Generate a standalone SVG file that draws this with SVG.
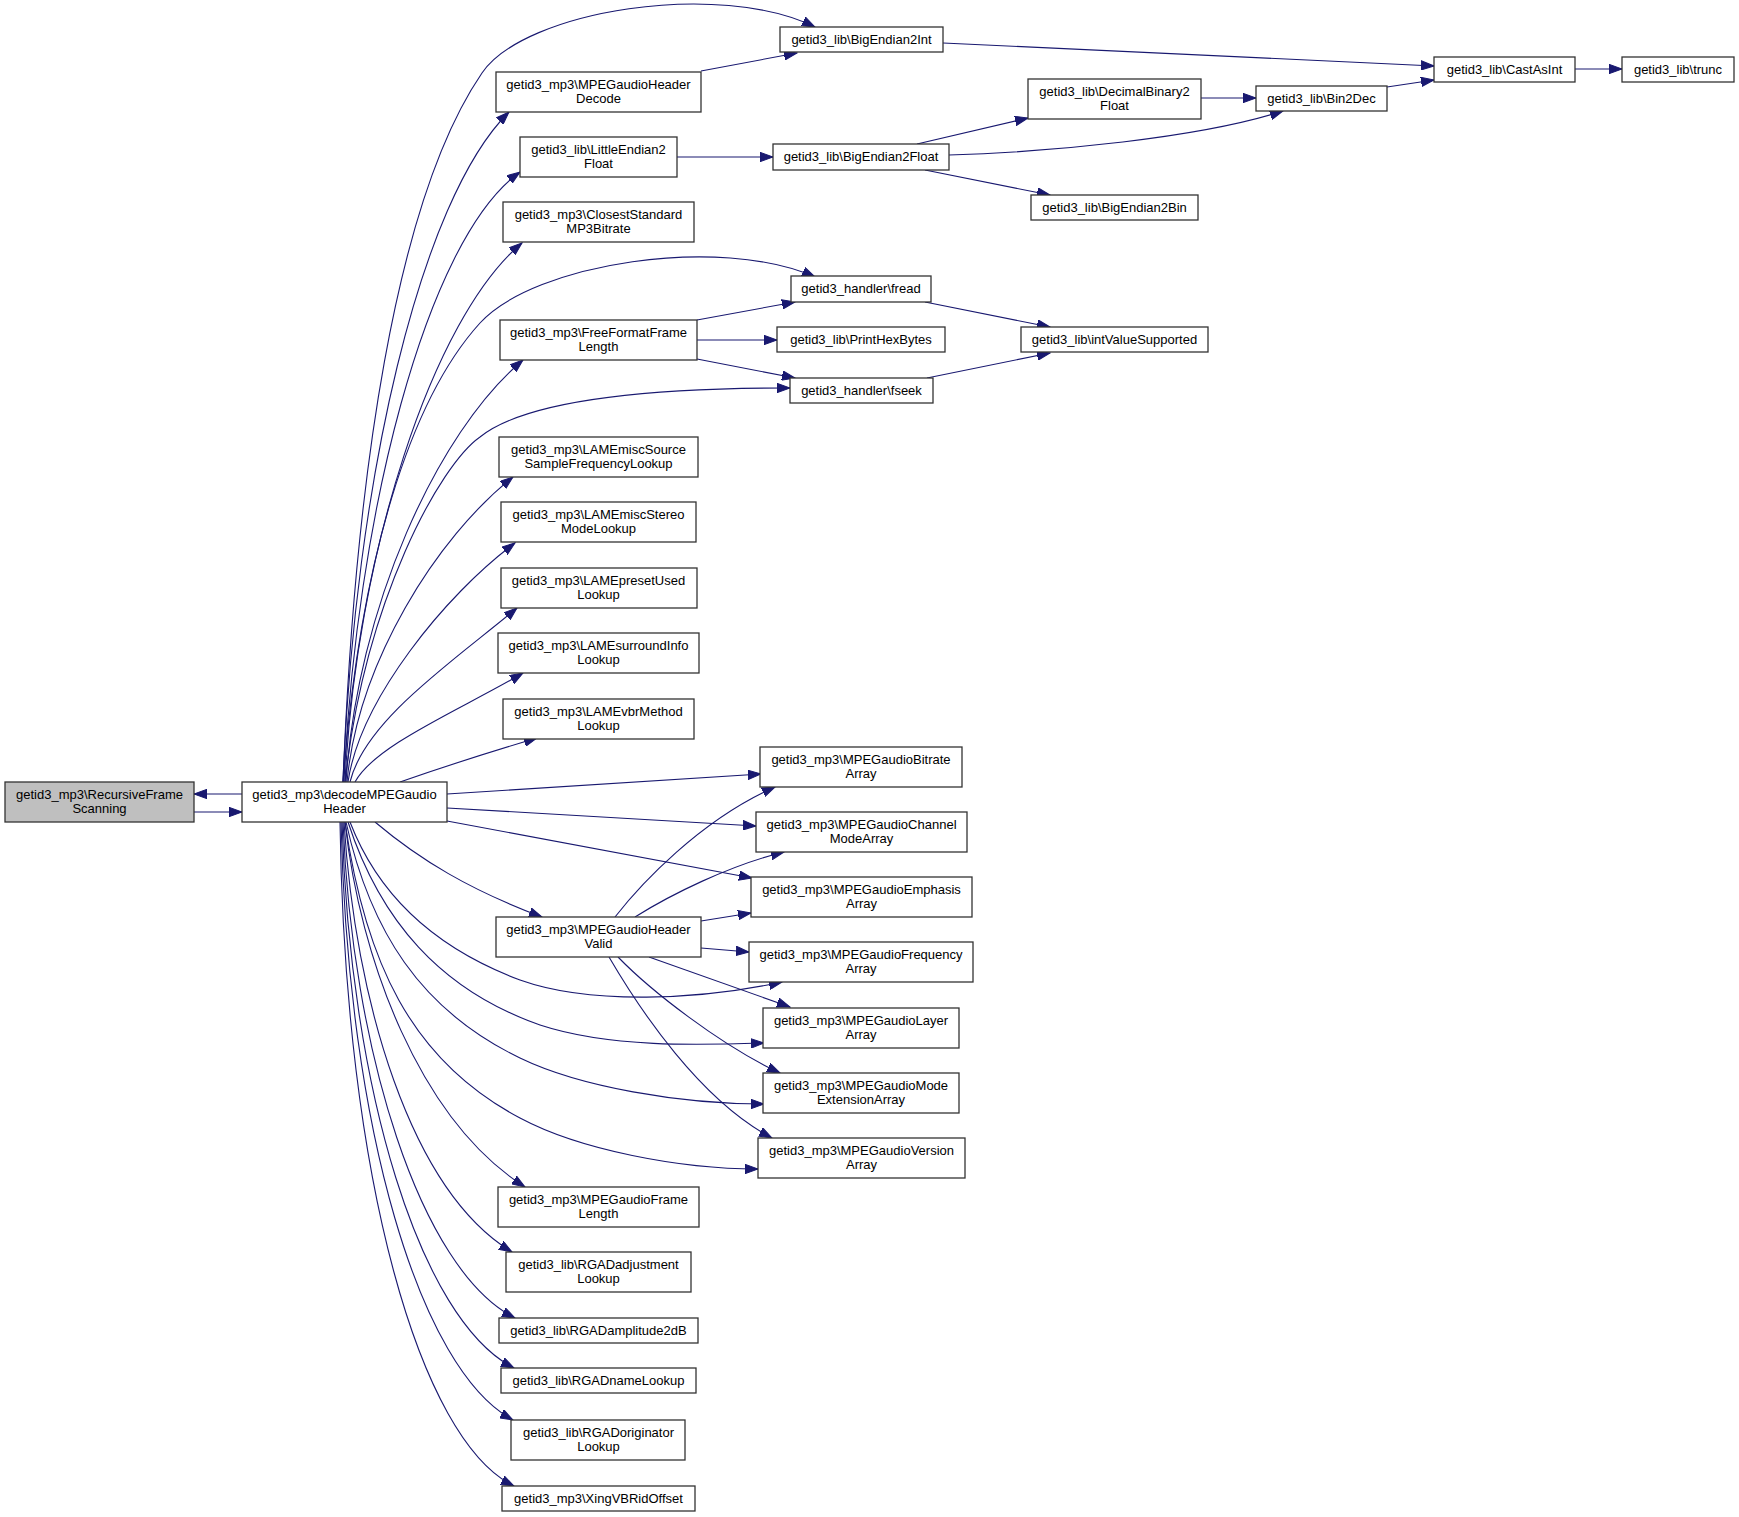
<svg xmlns="http://www.w3.org/2000/svg" width="1739" height="1517" viewBox="0 0 1739 1517">
<style>
.n rect{fill:#ffffff;stroke:#333333;stroke-width:1.3}
.n.g rect{fill:#bfbfbf}
.n text{font-family:"Liberation Sans",Arial,Helvetica,sans-serif;font-size:13px;fill:#000000;text-anchor:middle}
#edges path{fill:none;stroke:#191970;stroke-width:1.1;marker-end:url(#arr)}
</style>
<defs>
<marker id="arr" markerUnits="userSpaceOnUse" markerWidth="14" markerHeight="10" refX="13" refY="5" orient="auto" viewBox="0 0 14 10">
<path d="M0,0.3 L13,5 L0,9.7 z" fill="#191970" stroke="#191970" stroke-width="1"/>
</marker>
</defs>
<rect x="0" y="0" width="1739" height="1517" fill="#ffffff"/>
<g id="edges">
<path d="M242,794 L194,794"/>
<path d="M194,812 L242,812"/>
<path d="M343,782 C355,480 395,200 482,73 C525,10 720,-20 815,27"/>
<path d="M343,782 C355,480 420,200 509,112"/>
<path d="M344,782 C356,520 425,240 520,172"/>
<path d="M345,782 C356,556 432,318 522,243"/>
<path d="M343,782 C360,560 410,400 480,323 C535,263 720,235 815,277"/>
<path d="M346,782 C357,609 437,432 523,360"/>
<path d="M345,782 C365,600 440,465 480,437 C520,405 620,388 790,388"/>
<path d="M347,782 C358,663 436,538 513,477"/>
<path d="M348,782 C360,700 445,595 515,543"/>
<path d="M350,782 C365,720 455,660 517,608"/>
<path d="M355,782 C375,745 460,710 523,673"/>
<path d="M400,782 C440,768 490,752 537,738"/>
<path d="M447,794 L761,774"/>
<path d="M447,808 L756,826"/>
<path d="M447,821 L752,878"/>
<path d="M375,822 C420,860 470,890 542,917"/>
<path d="M350,822 C380,900 440,950 520,980 C590,1005 700,1000 782,982"/>
<path d="M348,822 C380,920 440,990 540,1025 C610,1048 700,1045 764,1043"/>
<path d="M346,822 C370,930 420,1010 520,1058 C580,1087 680,1104 764,1104"/>
<path d="M345,822 C365,960 410,1060 520,1118 C580,1150 680,1169 758,1169"/>
<path d="M345,822 C360,960 420,1120 525,1187"/>
<path d="M344,822 C355,1000 410,1190 512,1252"/>
<path d="M343,822 C352,1050 420,1270 515,1318"/>
<path d="M342,822 C350,1090 420,1320 514,1368"/>
<path d="M341,822 C348,1130 420,1370 513,1420"/>
<path d="M340,822 C345,1180 420,1440 514,1486"/>
<path d="M615,917 C640,885 700,820 775,787"/>
<path d="M635,917 C670,895 730,865 784,852"/>
<path d="M701,921 L751,913"/>
<path d="M701,948 L749,952"/>
<path d="M649,957 L790,1007"/>
<path d="M618,957 C650,990 720,1045 780,1073"/>
<path d="M609,957 C640,1010 700,1100 772,1138"/>
<path d="M701,71 L797,53"/>
<path d="M677,157 L773,157"/>
<path d="M697,320 L795,302"/>
<path d="M697,340 L777,340"/>
<path d="M697,359 L795,378"/>
<path d="M925,302 L1050,327"/>
<path d="M927,378 L1050,353"/>
<path d="M943,43 L1434,66"/>
<path d="M917,144 L1028,118"/>
<path d="M949,155 C1050,152 1200,138 1283,111"/>
<path d="M925,170 L1050,195"/>
<path d="M1201,98 L1256,98"/>
<path d="M1387,87 L1434,80"/>
<path d="M1575,69 L1622,69"/>
</g>
<g id="n_recursive" class="n g"><rect x="5" y="782" width="189" height="40"/><text x="99.5" y="798.5">getid3_mp3\RecursiveFrame</text><text x="99.5" y="813">Scanning</text></g>
<g id="n_decode" class="n"><rect x="242" y="782" width="205" height="40"/><text x="344.5" y="798.5">getid3_mp3\decodeMPEGaudio</text><text x="344.5" y="813">Header</text></g>
<g id="n_hdrdecode" class="n"><rect x="496" y="72" width="205" height="40"/><text x="598.5" y="88.5">getid3_mp3\MPEGaudioHeader</text><text x="598.5" y="103">Decode</text></g>
<g id="n_le2float" class="n"><rect x="520" y="137" width="157" height="40"/><text x="598.5" y="153.5">getid3_lib\LittleEndian2</text><text x="598.5" y="168">Float</text></g>
<g id="n_closest" class="n"><rect x="503" y="202" width="191" height="40"/><text x="598.5" y="218.5">getid3_mp3\ClosestStandard</text><text x="598.5" y="233">MP3Bitrate</text></g>
<g id="n_freeformat" class="n"><rect x="500" y="320" width="197" height="40"/><text x="598.5" y="336.5">getid3_mp3\FreeFormatFrame</text><text x="598.5" y="351">Length</text></g>
<g id="n_lamesource" class="n"><rect x="499" y="437" width="199" height="40"/><text x="598.5" y="453.5">getid3_mp3\LAMEmiscSource</text><text x="598.5" y="468">SampleFrequencyLookup</text></g>
<g id="n_lamestereo" class="n"><rect x="501" y="502" width="195" height="40"/><text x="598.5" y="518.5">getid3_mp3\LAMEmiscStereo</text><text x="598.5" y="533">ModeLookup</text></g>
<g id="n_lamepreset" class="n"><rect x="501" y="568" width="196" height="40"/><text x="598.5" y="584.5">getid3_mp3\LAMEpresetUsed</text><text x="598.5" y="599">Lookup</text></g>
<g id="n_lamesurround" class="n"><rect x="498" y="633" width="201" height="40"/><text x="598.5" y="649.5">getid3_mp3\LAMEsurroundInfo</text><text x="598.5" y="664">Lookup</text></g>
<g id="n_lamevbr" class="n"><rect x="503" y="699" width="191" height="40"/><text x="598.5" y="715.5">getid3_mp3\LAMEvbrMethod</text><text x="598.5" y="730">Lookup</text></g>
<g id="n_hdrvalid" class="n"><rect x="496" y="917" width="205" height="40"/><text x="598.5" y="933.5">getid3_mp3\MPEGaudioHeader</text><text x="598.5" y="948">Valid</text></g>
<g id="n_framelength" class="n"><rect x="498" y="1187" width="201" height="40"/><text x="598.5" y="1203.5">getid3_mp3\MPEGaudioFrame</text><text x="598.5" y="1218">Length</text></g>
<g id="n_rgadadj" class="n"><rect x="506" y="1252" width="185" height="40"/><text x="598.5" y="1268.5">getid3_lib\RGADadjustment</text><text x="598.5" y="1283">Lookup</text></g>
<g id="n_rgadamp" class="n"><rect x="499" y="1318" width="199" height="25"/><text x="598.5" y="1334.5">getid3_lib\RGADamplitude2dB</text></g>
<g id="n_rgadname" class="n"><rect x="501" y="1368" width="195" height="25"/><text x="598.5" y="1384.5">getid3_lib\RGADnameLookup</text></g>
<g id="n_rgadorig" class="n"><rect x="511" y="1420" width="174" height="40"/><text x="598.5" y="1436.5">getid3_lib\RGADoriginator</text><text x="598.5" y="1451">Lookup</text></g>
<g id="n_xing" class="n"><rect x="502" y="1486" width="193" height="25"/><text x="598.5" y="1502.5">getid3_mp3\XingVBRidOffset</text></g>
<g id="n_be2int" class="n"><rect x="780" y="27" width="163" height="25"/><text x="861.5" y="43.5">getid3_lib\BigEndian2Int</text></g>
<g id="n_be2float" class="n"><rect x="773" y="144" width="176" height="26"/><text x="861" y="161">getid3_lib\BigEndian2Float</text></g>
<g id="n_fread" class="n"><rect x="791" y="276" width="140" height="26"/><text x="861" y="293">getid3_handler\fread</text></g>
<g id="n_printhex" class="n"><rect x="777" y="327" width="168" height="25"/><text x="861" y="343.5">getid3_lib\PrintHexBytes</text></g>
<g id="n_fseek" class="n"><rect x="790" y="378" width="143" height="25"/><text x="861.5" y="394.5">getid3_handler\fseek</text></g>
<g id="n_bitrate" class="n"><rect x="760" y="747" width="202" height="40"/><text x="861" y="763.5">getid3_mp3\MPEGaudioBitrate</text><text x="861" y="778">Array</text></g>
<g id="n_channel" class="n"><rect x="756" y="812" width="211" height="40"/><text x="861.5" y="828.5">getid3_mp3\MPEGaudioChannel</text><text x="861.5" y="843">ModeArray</text></g>
<g id="n_emphasis" class="n"><rect x="751" y="877" width="221" height="40"/><text x="861.5" y="893.5">getid3_mp3\MPEGaudioEmphasis</text><text x="861.5" y="908">Array</text></g>
<g id="n_frequency" class="n"><rect x="749" y="942" width="224" height="40"/><text x="861" y="958.5">getid3_mp3\MPEGaudioFrequency</text><text x="861" y="973">Array</text></g>
<g id="n_layer" class="n"><rect x="763" y="1008" width="196" height="40"/><text x="861" y="1024.5">getid3_mp3\MPEGaudioLayer</text><text x="861" y="1039">Array</text></g>
<g id="n_modeext" class="n"><rect x="763" y="1073" width="196" height="40"/><text x="861" y="1089.5">getid3_mp3\MPEGaudioMode</text><text x="861" y="1104">ExtensionArray</text></g>
<g id="n_version" class="n"><rect x="758" y="1138" width="207" height="40"/><text x="861.5" y="1154.5">getid3_mp3\MPEGaudioVersion</text><text x="861.5" y="1169">Array</text></g>
<g id="n_decbin2float" class="n"><rect x="1028" y="79" width="173" height="40"/><text x="1114.5" y="95.5">getid3_lib\DecimalBinary2</text><text x="1114.5" y="110">Float</text></g>
<g id="n_be2bin" class="n"><rect x="1031" y="195" width="167" height="25"/><text x="1114.5" y="211.5">getid3_lib\BigEndian2Bin</text></g>
<g id="n_intvalue" class="n"><rect x="1021" y="327" width="187" height="25"/><text x="1114.5" y="343.5">getid3_lib\intValueSupported</text></g>
<g id="n_bin2dec" class="n"><rect x="1256" y="86" width="131" height="25"/><text x="1321.5" y="102.5">getid3_lib\Bin2Dec</text></g>
<g id="n_castasint" class="n"><rect x="1434" y="57" width="141" height="25"/><text x="1504.5" y="73.5">getid3_lib\CastAsInt</text></g>
<g id="n_trunc" class="n"><rect x="1622" y="57" width="112" height="25"/><text x="1678" y="73.5">getid3_lib\trunc</text></g>
</svg>
